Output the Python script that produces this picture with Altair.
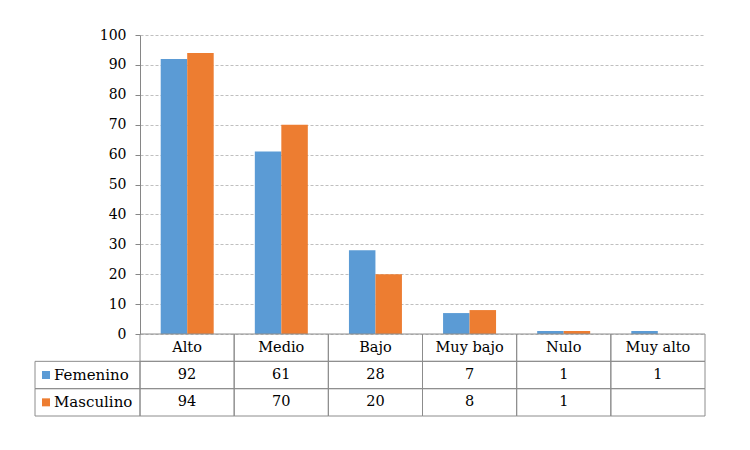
import altair as alt
import pandas as pd

categories = ["Alto", "Medio", "Bajo", "Muy bajo", "Nulo", "Muy alto"]
series = ["Femenino", "Masculino"]
femenino = [92, 61, 28, 7, 1, 1]
masculino = [94, 70, 20, 8, 1, None]
y_ticks = list(range(0, 101, 10))

BLUE = "#5B9BD5"
ORANGE = "#ED7D31"
LINE = "#8c8c8c"
FONT = "DejaVu Serif"

# bar data
bar_rows = []
for c, f, m in zip(categories, femenino, masculino):
    if f is not None:
        bar_rows.append({"cat": c, "series": "Femenino", "value": f})
    if m is not None:
        bar_rows.append({"cat": c, "series": "Masculino", "value": m})
bar_df = pd.DataFrame(bar_rows)

# table data
row_domain = ["h", "Femenino", "Masculino"]
tab_rows = []
for i, c in enumerate(categories):
    tab_rows.append({"cat": c, "row": "h", "text": c})
    tab_rows.append({"cat": c, "row": "Femenino", "text": "" if femenino[i] is None else str(femenino[i])})
    tab_rows.append({"cat": c, "row": "Masculino", "text": "" if masculino[i] is None else str(masculino[i])})
tab_df = pd.DataFrame(tab_rows)
leg_df = pd.DataFrame({"row": series, "series": series})

W, H = 565, 299
TABLE_BOTTOM = 381

bars = alt.Chart(bar_df).mark_bar().encode(
    x=alt.X("cat:N", sort=categories,
            scale=alt.Scale(domain=categories, paddingInner=0.437, paddingOuter=0.22),
            axis=None),
    xOffset=alt.XOffset("series:N", scale=alt.Scale(domain=series, paddingInner=0, paddingOuter=0)),
    y=alt.Y("value:Q", scale=alt.Scale(domain=[0, 100], nice=False),
            axis=alt.Axis(values=y_ticks, title=None, grid=True, gridDash=[3, 2],
                          gridColor="#bfbfbf", domainColor="#868686", tickColor="#868686",
                          tickSize=5, labelFont=FONT, labelFontSize=14, labelColor="black",
                          labelPadding=9)),
    color=alt.Color("series:N", scale=alt.Scale(domain=series, range=[BLUE, ORANGE]), legend=None),
)

tx = alt.X("cat:N", sort=categories,
           scale=alt.Scale(domain=categories, paddingInner=0, paddingOuter=0), axis=None)
ty = alt.Y("row:N", sort=row_domain,
           scale=alt.Scale(domain=row_domain, range=[H, TABLE_BOTTOM], paddingInner=0, paddingOuter=0),
           axis=None)

cells = alt.Chart(tab_df).mark_rect(fillOpacity=0, stroke=LINE, strokeWidth=1).encode(x=tx, y=ty)
cell_text = alt.Chart(tab_df).mark_text(font=FONT, fontSize=14.5, color="black", baseline="middle").encode(
    x=tx, y=ty, text="text:N")

leg_cells = alt.Chart(leg_df).mark_rect(fillOpacity=0, stroke=LINE, strokeWidth=1).encode(
    x=alt.value(-105), x2=alt.value(0), y=ty)
leg_sq = alt.Chart(leg_df).mark_square(size=64, opacity=1).encode(
    x=alt.value(-94), y=ty,
    color=alt.Color("series:N", scale=alt.Scale(domain=series, range=[BLUE, ORANGE]), legend=None))
leg_text = alt.Chart(leg_df).mark_text(font=FONT, fontSize=15, color="black", align="left",
                                       baseline="middle").encode(
    x=alt.value(-86), y=ty, text="series:N")

chart = alt.layer(bars, cells, cell_text, leg_cells, leg_sq, leg_text).resolve_scale(
    x="independent", y="independent"
).properties(
    width=W, height=H,
    autosize=alt.AutoSizeParams(type="none"),
    padding={"left": 132, "top": 27, "right": 37, "bottom": 108},
    background="white",
).configure_view(stroke=None)

chart.save("out.html", embed_options={"renderer": "svg", "actions": False})
